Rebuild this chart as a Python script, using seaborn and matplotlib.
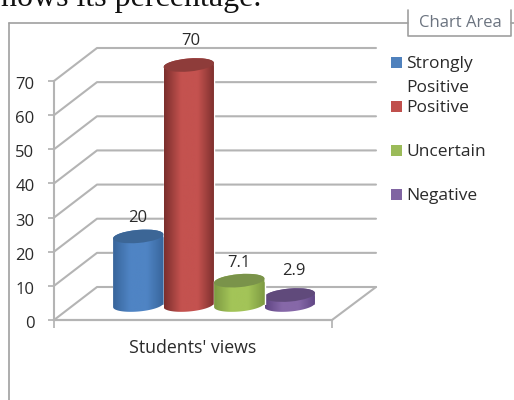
import numpy as np
import matplotlib
matplotlib.use('Agg')
import matplotlib.pyplot as plt
import seaborn as sns
from matplotlib.colors import LinearSegmentedColormap
from matplotlib.patches import Ellipse, Rectangle
from matplotlib.path import Path
from matplotlib.transforms import IdentityTransform, ScaledTranslation

views = ['Strongly\nPositive', 'Positive', 'Uncertain', 'Negative']
values = [20, 70, 7.1, 2.9]
value_labels = ['20', '70', '7.1', '2.9']
y_ticks = [0, 10, 20, 30, 40, 50, 60, 70]
x_label = "Students' views"
page_text = 'hows its percentage.'
box_text = 'Chart Area'

base_colors = ['#4f81bd', '#c0504d', '#9bbb59', '#8064a2']
edge_colors = ['#38659b', '#7b2f2d', '#7d9a42', '#5f4583']
center_colors = ['#4f84c4', '#c4524f', '#a3c458', '#8668a8']
cap_colors = ['#3c6696', '#8e3c3a', '#7a934a', '#604a7b']
draw_order = [3, 4, 6, 5]
label_px = [(138, 218), (191, 41), (239, 263), (294, 271)]
legend_y = [62, 106, 150, 194]

W, H = 514, 400
LINE = '#b4b4b4'
TEXT = '#2a2a2a'
FONT = 'Open Sans'


def px_rect(left, top, right, bottom):
    return [left / W, 1 - bottom / H, (right - left) / W, (bottom - top) / H]


def arc(cx, cy, a, b, angle, start, stop):
    t = np.linspace(start, stop, 40)
    ex, ey = a * np.cos(t), b * np.sin(t)
    r = np.radians(angle)
    return np.column_stack([cx + ex * np.cos(r) - ey * np.sin(r),
                            cy + ex * np.sin(r) + ey * np.cos(r)])


sns.set_theme(style='white')
plt.rcParams['font.family'] = [FONT, 'DejaVu Sans']
fig = plt.figure(figsize=(W / 100, H / 100), dpi=100)

# page layer in pixel coordinates: frame, walls and floor
page = fig.add_axes([0, 0, 1, 1])
page.set_xlim(0, W)
page.set_ylim(H, 0)
page.axis('off')
page.text(1, 6, page_text, family='Liberation Serif', fontsize=23, color='#111111', va='baseline')

page.plot([9, 9], [400, 23], color='#a0a0a0', lw=1.2)
page.plot([9, 408], [23, 23], color='#a0a0a0', lw=1.2)
page.plot([408, 408, 511, 511], [10, 36, 36, 10], color='#a0a0a0', lw=1.2)
page.plot([511, 514], [23, 23], color='#a0a0a0', lw=1.2)
page.text(460, 23, box_text, fontsize=12, color='#6c7480', ha='center', va='center')

for v in y_ticks:
    front = 320 - v * (320 - 81) / 70
    back = 287 - v * (287 - 48) / 70
    page.plot([54, 97, 376], [front, back, back], color=LINE, lw=1.5, zorder=1)
page.plot([376, 332, 54], [287, 320, 320], color=LINE, lw=1.5, zorder=1)

# front plane carries the value axis
ax = fig.add_axes(px_rect(54, 81, 332, 320))
ax.patch.set_alpha(0)
ax.set_ylim(0, 70)
ax.set_xlim(0, 1)
ax.set_yticks(y_ticks)
ax.set_xticks([0, 1])
ax.set_xticklabels([])
ax.set_xlabel(x_label, fontsize=12.8, color=TEXT, labelpad=4)
ax.tick_params(axis='y', left=True, length=4, color=LINE, labelsize=12, labelcolor=TEXT, pad=10)
ax.tick_params(axis='x', bottom=True, length=6, color=LINE)
sns.despine(ax=ax, top=True, right=True, bottom=False)
for side in ['left', 'bottom']:
    ax.spines[side].set_color(LINE)
    ax.spines[side].set_linewidth(1.5)
nudge = ScaledTranslation(0, -2 / 100, fig.dpi_scale_trans)
for label in ax.get_yticklabels():
    label.set_transform(label.get_transform() + nudge)

# cylinders stand half way back on the floor
bar_ax = fig.add_axes(px_rect(113, 65, 315, 305))
bar_ax.patch.set_alpha(0)
sns.barplot(x=views, y=values, hue=views, palette=base_colors, dodge=False, legend=False, width=1.0, ax=bar_ax)
bar_ax.set_xlim(-0.5, 3.5)
bar_ax.set_ylim(0, 70)
bar_ax.axis('off')

ELL_H = 6.5
TILT = -5
for i, container in enumerate(bar_ax.containers):
    bar = container[0]
    bar.set_zorder(draw_order[i])
    x0, x1 = bar.get_x(), bar.get_x() + bar.get_width()
    (px0, py0), (px1, py1) = bar_ax.transData.transform([(x0, 0), (x1, bar.get_height())])
    cx, half = (px0 + px1) / 2, (px1 - px0) / 2
    outline = np.vstack([arc(cx, py0, half, ELL_H, -TILT, np.pi, 2 * np.pi),
                         arc(cx, py1, half, ELL_H, -TILT, 0, np.pi)])
    cmap = LinearSegmentedColormap.from_list('body', [edge_colors[i], center_colors[i], center_colors[i], edge_colors[i]])
    im = bar_ax.imshow(np.linspace(0, 1, 120).reshape(1, -1), cmap=cmap, aspect='auto',
                       extent=[x0, x1, -5, bar.get_height() + 5], zorder=draw_order[i] + 0.1)
    im.set_clip_box(fig.bbox)
    im.set_clip_path(Path(np.vstack([outline, outline[:1]])), IdentityTransform())
    bar_ax.add_patch(Ellipse((cx, py1), 2 * half, 2 * ELL_H, angle=-TILT, facecolor=cap_colors[i],
                             edgecolor='none', transform=IdentityTransform(),
                             zorder=draw_order[i] + 0.2, clip_on=False))
bar_ax.set_xlim(-0.5, 3.5)
bar_ax.set_ylim(0, 70)

for text, (lx, ly) in zip(value_labels, label_px):
    page.text(lx, ly, text, fontsize=12, color=TEXT, ha='center', va='center', zorder=10)

# legend
for name, color, ly in zip(views, base_colors, legend_y):
    page.add_patch(Rectangle((391, ly - 5.5), 11, 11, facecolor=color, edgecolor='none'))
    for j, part in enumerate(name.split('\n')):
        page.text(406, ly + 2 + j * 24, part, fontsize=12.5, color=TEXT, va='center')

fig.savefig('out.png', dpi=100)
